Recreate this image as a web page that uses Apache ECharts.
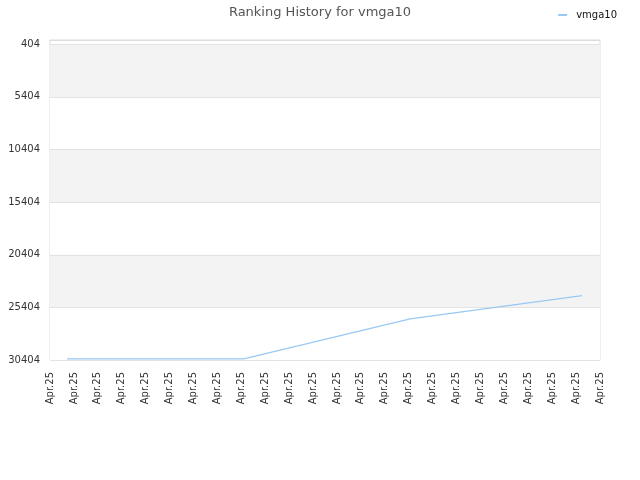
<!DOCTYPE html>
<html>
<head>
<meta charset="utf-8">
<title>Ranking History for vmga10</title>
<script src="https://cdn.jsdelivr.net/npm/echarts@6/dist/echarts.min.js"></script>
<style>
	html, body { margin: 0; padding: 0; background: #fff; }
	#chart { width: 640px; height: 480px; }
</style>
</head>
<body>
<div id="chart"></div>
<script>
'use strict';
// tick labels along the bottom, one per day slot
var xLabels = ['Apr.25', 'Apr.25', 'Apr.25', 'Apr.25', 'Apr.25', 'Apr.25', 'Apr.25', 'Apr.25',
	'Apr.25', 'Apr.25', 'Apr.25', 'Apr.25', 'Apr.25', 'Apr.25', 'Apr.25', 'Apr.25',
	'Apr.25', 'Apr.25', 'Apr.25', 'Apr.25', 'Apr.25', 'Apr.25', 'Apr.25', 'Apr.25'];
// rank ticks on the (inverted) y axis
var yTicks = [404, 5404, 10404, 15404, 20404, 25404, 30404];
// series: position along x (in label slots) and rank
var rankX = [0.71, 8.1, 15.06, 22.25];
var rankY = [30300, 30300, 26500, 24290];
var seriesName = 'vmga10';

var points = rankX.map(function(x, i){
	return [x, rankY[i]];
});

var fontFamily = '"DejaVu Sans", sans-serif';
var chart = echarts.init(document.getElementById('chart'));
chart.setOption({
	animation: false,
	title: {
		text: 'Ranking History for ' + seriesName,
		left: 'center',
		top: 1,
		textStyle: { fontFamily: fontFamily, fontSize: 13, fontWeight: 'normal', color: '#555' }
	},
	legend: {
		right: 18,
		top: 5,
		itemWidth: 9,
		itemHeight: 2,
		itemGap: 6,
		icon: 'rect',
		textStyle: { fontFamily: fontFamily, fontSize: 10, color: '#111', padding: [0, 0, 0, 4] },
		data: [seriesName]
	},
	grid: {
		left: 50,
		right: 40,
		top: 40,
		bottom: 120,
		show: true,
		borderColor: '#ddd',
		borderWidth: 1,
		containLabel: false
	},
	xAxis: {
		type: 'value',
		min: 0,
		max: xLabels.length - 1,
		interval: 1,
		axisLine: { show: true, lineStyle: { color: '#ddd' } },
		axisTick: { show: false },
		splitLine: { show: false },
		axisLabel: {
			rotate: 90,
			margin: 12,
			fontFamily: fontFamily,
			fontSize: 10,
			color: '#333',
			showMinLabel: true,
			showMaxLabel: true,
			formatter: function(v){ return xLabels[Math.round(v)] || ''; }
		}
	},
	yAxis: {
		type: 'value',
		inverse: true,
		min: 0,
		max: 30404,
		axisLine: { show: false },
		axisTick: { show: false, customValues: yTicks },
		axisLabel: {
			customValues: yTicks,
			margin: 10,
			fontFamily: fontFamily,
			fontSize: 10,
			color: '#333',
			formatter: function(v){ return String(v); }
		},
		splitLine: { show: true, lineStyle: { color: '#e3e3e3' } },
		splitArea: { show: true, areaStyle: { color: ['#f3f3f3', '#fff'] } }
	},
	series: [{
		name: seriesName,
		type: 'line',
		data: points,
		symbol: 'none',
		lineStyle: { color: '#99c8f5', width: 1.2 },
		itemStyle: { color: '#99c8f5' }
	}]
});
</script>
</body>
</html>
